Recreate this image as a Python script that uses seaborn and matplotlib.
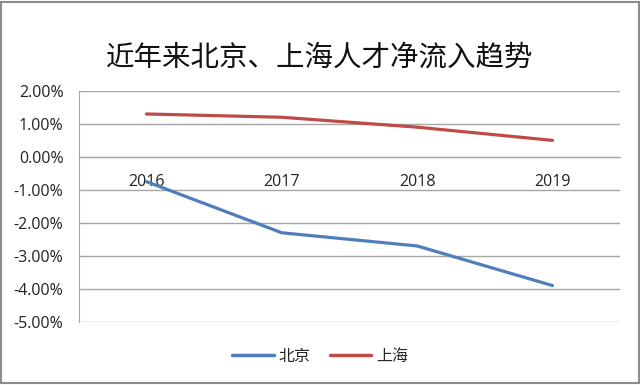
import pandas as pd
import seaborn as sns
import matplotlib.pyplot as plt
from matplotlib.patches import Rectangle
from matplotlib.ticker import FuncFormatter, FixedLocator

years = ['2016', '2017', '2018', '2019']
beijing = [-0.75, -2.3, -2.7, -3.9]
shanghai = [1.3, 1.2, 0.9, 0.5]
series_names = ['北京', '上海']
colors = ['#4F7EBB', '#BE4B48']

df = pd.DataFrame({
    'year': list(range(len(years))) * 2,
    'value': beijing + shanghai,
    'city': [series_names[0]] * len(years) + [series_names[1]] * len(years),
})

sns.set_style('white')
plt.rcParams['font.family'] = ['Noto Sans CJK SC', 'DejaVu Sans']

fig = plt.figure(figsize=(6.4, 3.85), dpi=100)
ax = fig.add_axes([0.123, 0.164, 0.846, 0.600])

sns.lineplot(data=df, x='year', y='value', hue='city', palette=colors,
             linewidth=2.3, ax=ax, legend=False)

ax.set_xlim(-0.5, 3.5)
ax.set_ylim(-5, 2)
ax.set_yticks(range(-5, 3))
ax.yaxis.set_major_formatter(FuncFormatter(lambda v, p: f'{v:.2f}%'))
ax.grid(axis='y', color='#A6A6A6', linewidth=1)
ax.set_axisbelow(True)

# category axis sits on the zero line
ax.spines['bottom'].set_position(('data', 0))
ax.spines['bottom'].set_color('#A6A6A6')
ax.spines['left'].set_color('#A6A6A6')
ax.spines['top'].set_visible(False)
ax.spines['right'].set_visible(False)
ax.set_xticks(range(len(years)))
ax.set_xticklabels(years, fontfamily=['Open Sans', 'DejaVu Sans'])
ax.xaxis.set_minor_locator(FixedLocator([-0.5, 0.5, 1.5, 2.5, 3.5]))
ax.tick_params(axis='x', which='major', length=0, pad=12, labelsize=11.5, colors='#222222')
ax.tick_params(axis='x', which='minor', length=5, color='#A6A6A6', direction='out')
ax.tick_params(axis='y', length=0, pad=11, labelsize=11.5, colors='#222222')
for t in ax.get_yticklabels():
    t.set_fontfamily(['Open Sans', 'DejaVu Sans'])
ax.set_xlabel('')
ax.set_ylabel('')

fig.text(0.5, 0.85, '近年来北京、上海人才净流入趋势', ha='center', va='center',
         fontsize=20.5, color='#111111')

handles = [plt.Line2D([], [], color=c, linewidth=2.5) for c in colors]
fig.legend(handles, series_names, loc='center', bbox_to_anchor=(0.5, 0.075),
           ncol=2, frameon=False, fontsize=11.5, handlelength=2.6,
           handletextpad=0.3, columnspacing=1.2)

fig.patches.append(Rectangle((0.002, 0.004), 0.996, 0.992, transform=fig.transFigure,
                             fill=False, edgecolor='#8C8C8C', linewidth=1.5))

fig.savefig('out.png', dpi=100)
